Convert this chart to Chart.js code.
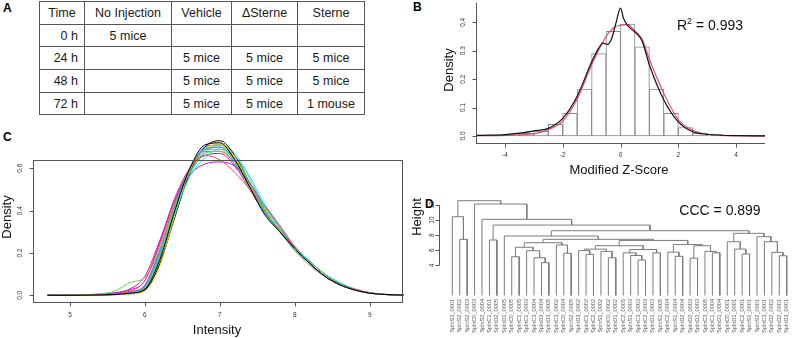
<!DOCTYPE html>
<html>
<head>
<meta charset="utf-8">
<script src="https://cdn.jsdelivr.net/npm/chart.js@4.4.1/dist/chart.umd.min.js"></script>
<style>
body { margin: 0; width: 794px; height: 338px; background: #fff; position: relative; overflow: hidden; font-family: "Liberation Sans", Arial, sans-serif; }
.tag { position: absolute; font-weight: bold; font-size: 12px; color: #000; }
canvas { position: absolute; }
#design { position: absolute; left: 39px; top: 1px; border-collapse: collapse; table-layout: fixed; width: 325px; font-size: 12.5px; color: #1a1a1a; }
#design td { border: 1px solid #555; height: 21.7px; padding: 0; text-align: center; white-space: nowrap; }
#design td.t { text-align: right; padding-right: 6px; }
</style>
</head>
<body>
<div class="tag" style="left:3px;top:1px">A</div>
<div class="tag" style="left:413px;top:0px">B</div>
<div class="tag" style="left:3px;top:130px">C</div>
<div class="tag" style="left:425px;top:197px">D</div>

<table id="design">
  <colgroup><col style="width:45px"><col style="width:87px"><col style="width:60px"><col style="width:66px"><col style="width:67px"></colgroup>
  <tbody></tbody>
</table>

<canvas id="histB" width="394" height="180" style="left:400px;top:0px"></canvas>
<canvas id="densC" width="410" height="208" style="left:0px;top:130px"></canvas>
<canvas id="treeD" width="394" height="148" style="left:400px;top:190px"></canvas>

<script>
// ---- A: study design ----
const groups = ["No Injection", "Vehicle", "\u0394Sterne", "Sterne"];
const timePoints = ["0 h", "24 h", "48 h", "72 h"];
const cohorts = [
  ["5 mice", "", "", ""],
  ["", "5 mice", "5 mice", "5 mice"],
  ["", "5 mice", "5 mice", "5 mice"],
  ["", "5 mice", "5 mice", "1 mouse"]
];

// ---- B: modified z-score histogram ----
const binCenters = [-4.75, -4.25, -3.75, -3.25, -2.75, -2.25, -1.75, -1.25, -0.75, -0.25, 0.25, 0.75, 1.25, 1.75, 2.25, 2.75, 3.25, 3.75, 4.25, 4.75];
const binDensity = [0.002, 0.003, 0.005, 0.009, 0.017, 0.041, 0.08, 0.165, 0.29, 0.368, 0.394, 0.314, 0.165, 0.08, 0.03, 0.01, 0.004, 0.002, 0.001, 0.001];
const kdeX = [-5, -4.5, -4, -3.5, -3, -2.5, -2, -1.5, -1, -0.75, -0.6, -0.45, -0.3, -0.15, 0, 0.1, 0.25, 0.45, 0.6, 0.75, 1, 1.5, 2, 2.5, 3, 3.5, 4, 5];
const kdeY = [0.002, 0.003, 0.005, 0.01, 0.018, 0.027, 0.062, 0.14, 0.26, 0.31, 0.327, 0.322, 0.345, 0.4, 0.45, 0.415, 0.388, 0.37, 0.356, 0.333, 0.25, 0.127, 0.05, 0.015, 0.006, 0.003, 0.001, 0.0005];
const normX = [-5, -4.5, -4, -3.5, -3, -2.5, -2, -1.5, -1, -0.5, -0.25, 0, 0.25, 0.5, 0.75, 1, 1.5, 2, 2.5, 3, 3.5, 4, 5];
const normY = [0.0005, 0.001, 0.002, 0.004, 0.008, 0.022, 0.052, 0.13, 0.25, 0.35, 0.38, 0.39, 0.392, 0.37, 0.34, 0.27, 0.15, 0.058, 0.02, 0.006, 0.002, 0.001, 0.0005];
const zTicks = [-4, -2, 0, 2, 4];
const bDensityTicks = [0, 0.1, 0.2, 0.3, 0.4];

// ---- C: intensity density per sample ----
const intensityX = [4.7, 5.0, 5.3, 5.6, 5.8, 6.0, 6.2, 6.4, 6.6, 6.8, 7.0, 7.2, 7.4, 7.6, 7.8, 8.0, 8.2, 8.4, 8.6, 8.8, 9.0, 9.2, 9.45];
const sampleCurves = [
  [0, 0, 0.001, 0.004, 0.01, 0.03, 0.17, 0.40, 0.60, 0.71, 0.72, 0.64, 0.51, 0.38, 0.30, 0.22, 0.15, 0.09, 0.05, 0.025, 0.01, 0.004, 0.001],
  [0, 0, 0.002, 0.008, 0.02, 0.07, 0.24, 0.45, 0.60, 0.66, 0.64, 0.58, 0.50, 0.42, 0.33, 0.23, 0.15, 0.09, 0.05, 0.03, 0.012, 0.004, 0.001],
  [0, 0.001, 0.005, 0.02, 0.06, 0.085, 0.22, 0.42, 0.58, 0.67, 0.68, 0.63, 0.52, 0.40, 0.31, 0.21, 0.16, 0.10, 0.055, 0.026, 0.011, 0.004, 0.001],
  [0, 0, 0.002, 0.006, 0.015, 0.045, 0.21, 0.43, 0.60, 0.69, 0.70, 0.63, 0.51, 0.39, 0.30, 0.22, 0.15, 0.09, 0.05, 0.025, 0.01, 0.004, 0.001],
  [0, 0, 0.001, 0.004, 0.01, 0.035, 0.18, 0.39, 0.56, 0.65, 0.69, 0.66, 0.55, 0.42, 0.32, 0.23, 0.16, 0.10, 0.06, 0.03, 0.012, 0.005, 0.001],
  [0, 0.001, 0.003, 0.012, 0.03, 0.09, 0.26, 0.45, 0.57, 0.62, 0.63, 0.61, 0.53, 0.42, 0.32, 0.22, 0.15, 0.09, 0.05, 0.028, 0.012, 0.004, 0.001],
  [0, 0, 0.001, 0.003, 0.006, 0.02, 0.14, 0.38, 0.59, 0.69, 0.71, 0.65, 0.53, 0.40, 0.31, 0.22, 0.15, 0.09, 0.05, 0.024, 0.01, 0.004, 0.001],
  [0, 0, 0.002, 0.005, 0.012, 0.04, 0.20, 0.42, 0.60, 0.69, 0.69, 0.62, 0.50, 0.39, 0.31, 0.22, 0.15, 0.09, 0.05, 0.026, 0.011, 0.004, 0.001],
  [0, 0, 0.001, 0.003, 0.008, 0.025, 0.15, 0.37, 0.58, 0.70, 0.73, 0.66, 0.53, 0.40, 0.31, 0.23, 0.16, 0.10, 0.055, 0.027, 0.011, 0.004, 0.001],
  [0, 0, 0.002, 0.007, 0.017, 0.05, 0.22, 0.44, 0.60, 0.68, 0.68, 0.62, 0.50, 0.39, 0.31, 0.22, 0.15, 0.09, 0.05, 0.025, 0.01, 0.004, 0.001],
  [0, 0, 0.002, 0.006, 0.014, 0.045, 0.20, 0.41, 0.58, 0.68, 0.70, 0.64, 0.53, 0.41, 0.32, 0.22, 0.15, 0.09, 0.05, 0.025, 0.01, 0.004, 0.001],
  [0, 0, 0.001, 0.005, 0.012, 0.04, 0.19, 0.41, 0.59, 0.70, 0.71, 0.64, 0.51, 0.39, 0.30, 0.22, 0.15, 0.09, 0.05, 0.025, 0.011, 0.004, 0.001],
  [0, 0, 0.002, 0.006, 0.013, 0.04, 0.19, 0.40, 0.57, 0.67, 0.71, 0.67, 0.56, 0.43, 0.33, 0.23, 0.16, 0.10, 0.06, 0.03, 0.012, 0.005, 0.001],
  [0, 0.001, 0.003, 0.01, 0.025, 0.07, 0.25, 0.46, 0.60, 0.66, 0.67, 0.61, 0.50, 0.39, 0.31, 0.22, 0.15, 0.09, 0.05, 0.027, 0.011, 0.004, 0.001],
  [0, 0, 0.001, 0.004, 0.009, 0.03, 0.17, 0.40, 0.60, 0.70, 0.72, 0.65, 0.52, 0.40, 0.31, 0.22, 0.15, 0.09, 0.05, 0.025, 0.01, 0.004, 0.001],
  [0, 0, 0.001, 0.004, 0.01, 0.03, 0.16, 0.38, 0.58, 0.69, 0.71, 0.65, 0.53, 0.40, 0.30, 0.21, 0.14, 0.09, 0.05, 0.026, 0.011, 0.004, 0.001]
];
const curveColors = ["#000000", "#DF536B", "#61D04F", "#2297E6", "#28E2E5", "#CD0BBC", "#F5C710", "#9E9E9E"];
const intensityTicks = [5, 6, 7, 8, 9];
const cDensityTicks = [0, 0.2, 0.4, 0.6];

// ---- D: hierarchical clustering ----
const leafLabels = [
  "SplnS3_0001", "SplnS2_0002", "SplnS2_0003", "SplnC0_0003", "SplnS2_0004", "SplnC1_0001", "SplnD2_0005", "SplnD1_0005",
  "SplnC0_0005", "SplnC1_0005", "SplnC1_0003", "SplnC3_0004", "SplnD3_0004", "SplnD3_0005", "SplnC3_0002", "SplnC0_0004",
  "SplnS2_0005", "SplnD3_0002", "SplnC1_0002", "SplnC2_0002", "SplnS1_0002", "SplnC0_0002", "SplnD1_0002", "SplnC2_0005",
  "SplnS1_0003", "SplnC3_0003", "SplnC2_0003", "SplnD1_0003", "SplnS1_0005", "SplnC2_0004", "SplnS1_0004", "SplnD2_0004",
  "SplnD2_0003", "SplnD3_0003", "SplnC3_0005", "SplnC1_0004", "SplnD1_0004", "SplnC0_0001", "SplnD1_0001", "SplnC2_0001",
  "SplnS1_0001", "SplnS2_0001", "SplnC3_0001", "SplnD2_0002", "SplnD2_0001", "SplnD3_0001"
];
// merge rows: [left, right, height]; negative = leaf position, positive = earlier row
const merges = [
  [-2, -3, 7.45], [-1, 1, 10.45], [-6, -7, 7.36], [-9, -10, 5.14], [-13, -14, 4.35],
  [-12, 5, 5.0], [-11, 6, 5.94], [4, 7, 6.39], [-16, -17, 5.6], [-15, 9, 6.7],
  [8, 10, 7.0], [-19, -20, 5.45], [-18, 12, 5.95], [-22, -23, 5.0], [-21, 14, 5.85],
  [13, 15, 6.15], [-26, -27, 4.7], [-25, 17, 5.3], [-24, 18, 5.65], [-28, -29, 5.65],
  [19, 20, 6.1], [16, 21, 6.6], [-31, -32, 5.2], [-30, 23, 5.75], [-33, -34, 4.95],
  [-36, -37, 5.65], [-35, 26, 5.85], [25, 27, 6.6], [24, 28, 6.75], [22, 29, 7.3],
  [11, 30, 7.45], [-8, 31, 7.89], [-40, -41, 5.5], [-39, 33, 6.16], [-38, 34, 7.13],
  [-45, -46, 5.27], [-44, 36, 5.72], [-43, 37, 7.13], [-42, 38, 7.8], [35, 39, 8.24],
  [32, 40, 8.59], [3, 41, 9.34], [-5, 42, 10.1], [-4, 43, 12.13], [2, 44, 12.57]
];
const heightTicks = [4, 6, 8, 10, 12];

// ---------- table ----------
const tb = document.querySelector("#design tbody");
let html = "<tr><td>Time</td>" + groups.map(g => "<td>" + g + "</td>").join("") + "</tr>";
timePoints.forEach((t, i) => {
  html += "<tr><td class='t'>" + t + "</td>" + cohorts[i].map(c => "<td>" + c + "</td>").join("") + "</tr>";
});
tb.innerHTML = html;

// ---------- helpers ----------
const FONT = '"Liberation Sans", Arial, sans-serif';

function drawAxis(chart, a) {
  const ctx = chart.ctx, s = chart.scales[a.scale], area = chart.chartArea;
  ctx.save();
  ctx.strokeStyle = "#555";
  ctx.lineWidth = 1;
  ctx.fillStyle = "#333";
  ctx.font = "6.5px " + FONT;
  ctx.beginPath();
  if (a.scale === "x") {
    const y = Math.round(area.bottom) + 0.5;
    if (a.line) { ctx.moveTo(s.getPixelForValue(a.line[0]), y); ctx.lineTo(s.getPixelForValue(a.line[1]), y); }
    a.ticks.forEach(v => {
      const x = Math.round(s.getPixelForValue(v)) + 0.5;
      ctx.moveTo(x, y); ctx.lineTo(x, y + 4);
    });
    ctx.stroke();
    ctx.textAlign = "center";
    ctx.textBaseline = "middle";
    a.ticks.forEach(v => ctx.fillText(a.fmt(v), s.getPixelForValue(v), y + a.off));
  } else {
    const x = (a.at !== undefined ? a.at : Math.round(area.left)) + 0.5;
    if (a.line) { ctx.moveTo(x, a.line[0]); ctx.lineTo(x, a.line[1]); }
    a.ticks.forEach(v => {
      const y = Math.round(s.getPixelForValue(v)) + 0.5;
      ctx.moveTo(x, y); ctx.lineTo(x - 4, y);
    });
    ctx.stroke();
    ctx.textAlign = "center";
    ctx.textBaseline = "middle";
    a.ticks.forEach(v => {
      ctx.save();
      ctx.translate(x - a.off, s.getPixelForValue(v));
      ctx.rotate(-Math.PI / 2);
      ctx.fillText(a.fmt(v), 0, 0);
      ctx.restore();
    });
  }
  ctx.restore();
}

function drawText(ctx, txt, x, y, size, rot) {
  ctx.save();
  ctx.fillStyle = "#111";
  ctx.font = size + "px " + FONT;
  ctx.textAlign = "center";
  ctx.textBaseline = "middle";
  ctx.translate(x, y);
  if (rot) ctx.rotate(-Math.PI / 2);
  ctx.fillText(txt, 0, 0);
  ctx.restore();
}

const pairs = (xs, ys) => xs.map((x, i) => ({ x: x, y: ys[i] }));

// ---------- B ----------
new Chart(document.getElementById("histB"), {
  type: "bar",
  data: {
    datasets: [
      {
        type: "line", data: pairs(normX, normY), borderColor: "#E0455E", borderWidth: 1.1,
        pointRadius: 0, cubicInterpolationMode: "monotone", order: 1
      },
      {
        type: "line", data: pairs(kdeX, kdeY), borderColor: "#111", borderWidth: 1.2,
        pointRadius: 0, cubicInterpolationMode: "monotone", order: 0
      },
      {
        type: "bar", data: pairs(binCenters, binDensity), backgroundColor: "#fff", borderColor: "#888",
        borderWidth: 1, borderSkipped: false, barPercentage: 1, categoryPercentage: 1, order: 2
      }
    ]
  },
  options: {
    responsive: false, animation: false,
    layout: { padding: { left: 76, right: 29, top: 3, bottom: 37 } },
    plugins: { legend: { display: false }, tooltip: { enabled: false } },
    scales: {
      x: { type: "linear", min: -5, max: 5, offset: false, display: false },
      y: { type: "linear", min: -0.0246, max: 0.4679, display: false }
    }
  },
  plugins: [{
    id: "axesB",
    afterDraw(chart) {
      const a = chart.chartArea, ctx = chart.ctx;
      drawAxis(chart, { scale: "x", ticks: zTicks, line: [-5, 5], off: 12, fmt: v => String(v) });
      drawAxis(chart, { scale: "y", ticks: bDensityTicks, line: [a.top, a.bottom], off: 13, fmt: v => v.toFixed(1) });
      drawText(ctx, "Density", 49, 70, 13, true);
      drawText(ctx, "Modified Z-Score", 219, 170, 13, false);
      ctx.save();
      ctx.fillStyle = "#111";
      ctx.textBaseline = "alphabetic";
      ctx.font = "14px " + FONT;
      ctx.fillText("R", 277, 30);
      ctx.font = "9px " + FONT;
      ctx.fillText("2", 287, 24);
      ctx.font = "14px " + FONT;
      ctx.fillText(" = 0.993", 292, 30);
      ctx.restore();
    }
  }]
});

// ---------- C ----------
new Chart(document.getElementById("densC"), {
  type: "line",
  data: {
    datasets: sampleCurves.map((ys, i) => ({
      data: pairs(intensityX, ys), borderColor: curveColors[i % curveColors.length], borderWidth: 1,
      pointRadius: 0, cubicInterpolationMode: "monotone", clip: false
    }))
  },
  options: {
    responsive: false, animation: false,
    layout: { padding: { left: 33, right: 8, top: 30, bottom: 36 } },
    plugins: { legend: { display: false }, tooltip: { enabled: false } },
    scales: {
      x: { type: "linear", min: 4.507, max: 9.43, display: false },
      y: { type: "linear", min: -0.0316, max: 0.639, display: false }
    }
  },
  plugins: [{
    id: "axesC",
    afterDraw(chart) {
      const a = chart.chartArea, ctx = chart.ctx;
      ctx.save();
      ctx.strokeStyle = "#555";
      ctx.lineWidth = 1;
      ctx.strokeRect(Math.round(a.left) + 0.5, Math.round(a.top) + 0.5, Math.round(a.right - a.left), Math.round(a.bottom - a.top));
      ctx.restore();
      drawAxis(chart, { scale: "x", ticks: intensityTicks, line: null, off: 13, fmt: v => String(v) });
      drawAxis(chart, { scale: "y", ticks: cDensityTicks, line: null, off: 13, fmt: v => v.toFixed(1) });
      drawText(ctx, "Density", 7, 87, 13, true);
      drawText(ctx, "Intensity", 217, 200, 13, false);
    }
  }]
});

// ---------- D ----------
const nodeX = [], nodeH = [];
const posOf = k => k < 0 ? [-k, 0] : [nodeX[k - 1], nodeH[k - 1]];
const treeSegments = [];
merges.forEach(([l, r, h]) => {
  const [xl, hl] = posOf(l), [xr, hr] = posOf(r);
  treeSegments.push({ x: xl, y: hl }, { x: xl, y: h }, { x: xr, y: h }, { x: xr, y: hr }, { x: xr, y: null });
  nodeX.push((xl + xr) / 2);
  nodeH.push(h);
});

new Chart(document.getElementById("treeD"), {
  type: "line",
  data: {
    datasets: [{
      data: treeSegments, borderColor: "#7c7c7c", borderWidth: 1, pointRadius: 0,
      tension: 0, spanGaps: false, clip: false
    }]
  },
  options: {
    responsive: false, animation: false,
    layout: { padding: { left: 52.3, right: 7.3, top: 7.46, bottom: 42.5 } },
    plugins: { legend: { display: false }, tooltip: { enabled: false } },
    scales: {
      x: { type: "linear", min: 1, max: leafLabels.length, display: false },
      y: { type: "linear", min: 0, max: 13, display: false }
    }
  },
  plugins: [{
    id: "axesD",
    afterDraw(chart) {
      const ctx = chart.ctx, sy = chart.scales.y, sx = chart.scales.x;
      drawAxis(chart, {
        scale: "y", ticks: heightTicks, at: 39,
        line: [sy.getPixelForValue(heightTicks[0]), sy.getPixelForValue(heightTicks[heightTicks.length - 1])],
        off: 7, fmt: v => String(v)
      });
      ctx.save();
      ctx.fillStyle = "#555";
      ctx.font = "5.6px " + FONT;
      ctx.textAlign = "right";
      ctx.textBaseline = "middle";
      leafLabels.forEach((lab, i) => {
        ctx.save();
        ctx.translate(sx.getPixelForValue(i + 1), 109);
        ctx.rotate(-Math.PI / 2);
        ctx.fillText(lab, 0, 0);
        ctx.restore();
      });
      ctx.restore();
      drawText(ctx, "Height", 17, 27, 13, true);
      drawText(ctx, "CCC = 0.899", 320, 21, 14, false);
    }
  }]
});
</script>
</body>
</html>
